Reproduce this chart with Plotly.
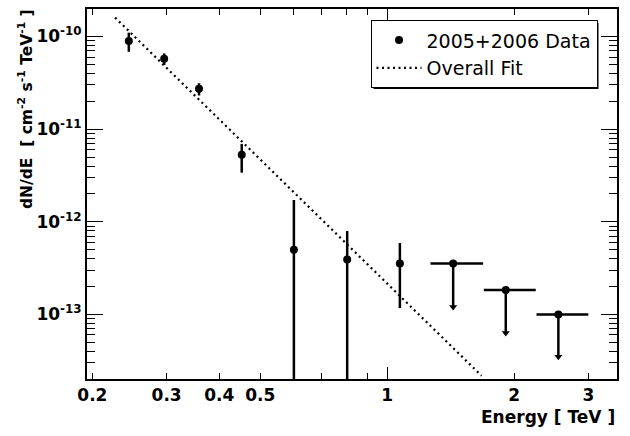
import numpy as np
import plotly.graph_objects as go

# ---- data ----
energy = [0.244, 0.296, 0.358, 0.452, 0.601, 0.804, 1.072]
flux = [8.93e-11, 5.77e-11, 2.73e-11, 5.28e-12, 5.0e-13, 3.91e-13, 3.54e-13]
flux_hi = [1.10e-10, 6.57e-11, 3.13e-11, 6.93e-12, 1.72e-12, 7.93e-13, 5.89e-13]
flux_lo = [6.85e-11, 4.93e-11, 2.31e-11, 3.39e-12, 1e-15, 1e-15, 1.17e-13]

ul_energy = [1.434, 1.911, 2.547]
ul_flux = [3.54e-13, 1.83e-13, 1.0e-13]
ul_e_lo = [1.267, 1.695, 2.26]
ul_e_hi = [1.689, 2.251, 3.0]
ul_tip = [1.2e-13, 6.3e-14, 3.5e-14]

fit_energy = [0.2264, 1.674]
fit_flux = [1.6e-10, 2.18e-14]

x_tickvals = [0.2, 0.3, 0.4, 0.5, 1, 2, 3]
x_ticktext = ["0.2", "0.3", "0.4", "0.5", "1", "2", "3"]
x_minorvals = [0.6, 0.7, 0.8, 0.9]
y_tickvals = [1e-13, 1e-12, 1e-11, 1e-10]
y_ticktext = ["10<sup>-13</sup>", "10<sup>-12</sup>", "10<sup>-11</sup>", "10<sup>-10</sup>"]

FONT = "DejaVu Sans"

fig = go.Figure()

# fit line
fig.add_trace(go.Scatter(
    x=fit_energy, y=fit_flux, mode="lines", name="Overall Fit",
    line=dict(color="black", width=2.2, dash="2px,3.5px"),
))

# data points
fl = np.array(flux)
fig.add_trace(go.Scatter(
    x=energy, y=flux, mode="markers", name="2005+2006 Data",
    marker=dict(color="black", size=8, symbol="circle"),
    error_y=dict(type="data", symmetric=False,
                 array=list(np.array(flux_hi) - fl),
                 arrayminus=list(fl - np.array(flux_lo)),
                 color="black", thickness=2.5, width=0),
))

# upper limits
uf = np.array(ul_flux)
ue = np.array(ul_energy)
fig.add_trace(go.Scatter(
    x=ul_energy, y=ul_flux, mode="markers", showlegend=False,
    marker=dict(color="black", size=8, symbol="circle"),
    error_x=dict(type="data", symmetric=False,
                 array=list(np.array(ul_e_hi) - ue),
                 arrayminus=list(ue - np.array(ul_e_lo)),
                 color="black", thickness=2.5, width=0),
    error_y=dict(type="data", symmetric=False,
                 array=[0, 0, 0],
                 arrayminus=list(uf - np.array(ul_tip)),
                 color="black", thickness=2.5, width=0),
))
fig.add_trace(go.Scatter(
    x=ul_energy, y=ul_tip, mode="markers", showlegend=False,
    marker=dict(color="black", size=7, symbol="triangle-down"),
))

# invisible trace on overlay axis (long tick at 1)
fig.add_trace(go.Scatter(x=[1], y=[1e-12], xaxis="x2", mode="markers",
                         marker=dict(opacity=0), showlegend=False, hoverinfo="skip"))

xr = [np.log10(0.1942), np.log10(3.508)]
yr = [-13.697, -9.703]

y_minor = []
for k in range(-14, -9):
    for m in range(2, 10):
        v = m * 10.0 ** k
        if 10 ** yr[0] < v < 10 ** yr[1]:
            y_minor.append(v)

PL, PR, PT, PB = 87, 617, 7, 379
def px(x):
    return (x - PL) / (PR - PL)
def py(y):
    return (PB - y) / (PB - PT)

fig.update_layout(
    width=630, height=436,
    margin=dict(l=PL, r=630 - PR, t=PT, b=436 - PB),
    paper_bgcolor="white", plot_bgcolor="white",
    showlegend=True,
    legend=dict(x=px(370.5), y=py(18.3), xanchor="left", yanchor="top",
                bgcolor="white", bordercolor="black", borderwidth=1,
                font=dict(family=FONT, size=19, color="black"),
                itemwidth=45, traceorder="reversed"),
    xaxis=dict(type="log", range=xr,
               tickmode="array", tickvals=x_tickvals, ticktext=x_ticktext,
               ticks="inside", ticklen=6, tickwidth=1, tickcolor="black",
               showline=True, linecolor="black", linewidth=2, mirror="ticks",
               showgrid=False, zeroline=False,
               tickfont=dict(family=FONT, size=17, color="black", weight="bold"),
               minor=dict(tickmode="array", tickvals=x_minorvals, ticks="inside",
                          ticklen=6, tickwidth=1, tickcolor="black", showgrid=False)),
    xaxis2=dict(type="log", range=xr, overlaying="x", side="bottom",
                tickmode="array", tickvals=[1],
                ticks="inside", ticklen=12, tickwidth=1, tickcolor="black",
                showline=False, mirror="ticks", showgrid=False, zeroline=False,
                showticklabels=False),
    yaxis=dict(type="log", range=yr,
               tickmode="array", tickvals=y_tickvals, ticktext=y_ticktext,
               ticks="inside", ticklen=16, tickwidth=1, tickcolor="black",
               showline=True, linecolor="black", linewidth=2, mirror="ticks",
               showgrid=False, zeroline=False,
               tickfont=dict(family=FONT, size=17, color="black", weight="bold"),
               minor=dict(tickmode="array", tickvals=y_minor, ticks="inside",
                          ticklen=8, tickwidth=1, tickcolor="black", showgrid=False)),
    shapes=[
        dict(type="rect", xref="paper", yref="paper",
             x0=px(373.5), x1=px(598.5), y0=py(87.5), y1=py(21),
             fillcolor="black", line=dict(width=0), layer="above"),
    ],
    annotations=[
        dict(text="Energy [ TeV ]", xref="paper", yref="paper", x=1, y=0,
             xanchor="right", yanchor="top", yshift=-26, showarrow=False,
             font=dict(family=FONT, size=17, color="black", weight="bold")),
        dict(text="dN/dE  [ cm<sup>-2</sup> s<sup>-1</sup> TeV<sup>-1</sup> ]",
             xref="paper", yref="paper", x=0, y=1, xanchor="center", yanchor="top",
             xshift=-62, yshift=2, textangle=-90, showarrow=False,
             font=dict(family=FONT, size=15.5, color="black", weight="bold")),
    ],
)

fig.write_html("out.html")
